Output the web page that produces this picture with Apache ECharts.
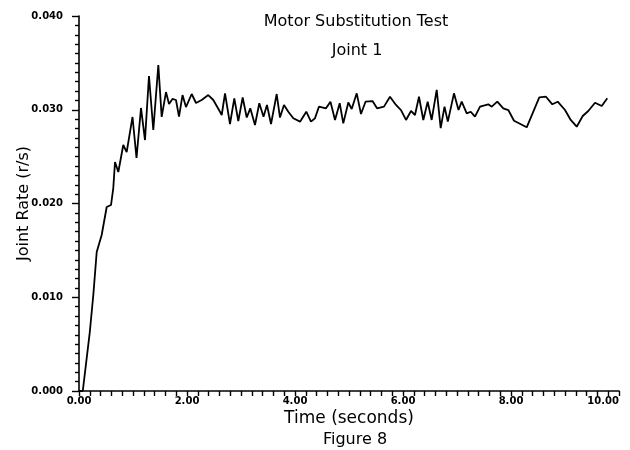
<!DOCTYPE html>
<html>
<head>
<meta charset="utf-8">
<script src="https://cdn.jsdelivr.net/npm/echarts@6/dist/echarts.min.js"></script>
<style>html,body{margin:0;padding:0;background:#fff}#c{width:630px;height:450px}</style>
</head>
<body>
<div id="c"></div>
<script>
const titleText = "Motor Substitution Test";
const subtitleText = "Joint 1";
const xName = "Time (seconds)";
const yName = "Joint Rate (r/s)";
const captionText = "Figure 8";

const time = [0, 0.07, 0.20, 0.265, 0.328, 0.42, 0.513, 0.593, 0.635, 0.667, 0.728, 0.82, 0.883, 0.991, 1.065, 1.148, 1.222, 1.296, 1.376, 1.469, 1.531, 1.611, 1.667, 1.731, 1.796, 1.852, 1.917, 1.981, 2.087, 2.167, 2.272, 2.394, 2.487, 2.611, 2.643, 2.704, 2.796, 2.876, 2.95, 3.031, 3.106, 3.172, 3.259, 3.339, 3.417, 3.481, 3.556, 3.661, 3.722, 3.796, 3.876, 3.969, 4.093, 4.209, 4.296, 4.37, 4.444, 4.574, 4.657, 4.741, 4.828, 4.894, 4.987, 5.05, 5.143, 5.222, 5.306, 5.435, 5.519, 5.648, 5.759, 5.87, 5.963, 6.056, 6.148, 6.222, 6.296, 6.376, 6.457, 6.531, 6.624, 6.698, 6.769, 6.83, 6.944, 7.028, 7.087, 7.18, 7.254, 7.333, 7.426, 7.58, 7.643, 7.746, 7.857, 7.95, 8.056, 8.291, 8.524, 8.648, 8.765, 8.865, 9.0, 9.106, 9.217, 9.328, 9.431, 9.556, 9.68, 9.783];
const rate = [0, 0, 0.00629, 0.01024, 0.01483, 0.01664, 0.01963, 0.01984, 0.02165, 0.02443, 0.02336, 0.02624, 0.02549, 0.02923, 0.02485, 0.03019, 0.02677, 0.0336, 0.02784, 0.03477, 0.02923, 0.03189, 0.03061, 0.03115, 0.03104, 0.02926, 0.03157, 0.03029, 0.03168, 0.03072, 0.03104, 0.03157, 0.03104, 0.02979, 0.02944, 0.03175, 0.02848, 0.03122, 0.0288, 0.03131, 0.02917, 0.03015, 0.02837, 0.03069, 0.02926, 0.03051, 0.02848, 0.03168, 0.02917, 0.03051, 0.02979, 0.02909, 0.02873, 0.02979, 0.02873, 0.02909, 0.03033, 0.03015, 0.03086, 0.02891, 0.03069, 0.02855, 0.03077, 0.03008, 0.03175, 0.02955, 0.03086, 0.03093, 0.03015, 0.03033, 0.03139, 0.03051, 0.02997, 0.02891, 0.02987, 0.02944, 0.03139, 0.02891, 0.03086, 0.02891, 0.03211, 0.02805, 0.03033, 0.02873, 0.03175, 0.02997, 0.03086, 0.02962, 0.02979, 0.02926, 0.03033, 0.03058, 0.03033, 0.03086, 0.03015, 0.02997, 0.02883, 0.02813, 0.03133, 0.03139, 0.03058, 0.03086, 0.02997, 0.02891, 0.02819, 0.02933, 0.02987, 0.03075, 0.0304, 0.03122];

const xTicks = [0, 2, 4, 6, 8, 10];
const yTicks = [0, 0.01, 0.02, 0.03, 0.04];

const points = time.map((t, i) => [t, rate[i]]);
const FONT = "DejaVu Sans";

const chart = echarts.init(document.getElementById('c'), null, {renderer: 'canvas'});
chart.setOption({
  animation: false,
  backgroundColor: '#fff',
  title: [
    {text: titleText, left: 351, top: 9, textAlign: 'center',
     textStyle: {fontFamily: FONT, fontSize: 16, fontWeight: 'normal', color: '#000'}},
    {text: subtitleText, left: 352, top: 38, textAlign: 'center',
     textStyle: {fontFamily: FONT, fontSize: 16, fontWeight: 'normal', color: '#000'}},
    {text: captionText, left: 350, top: 427, textAlign: 'center',
     textStyle: {fontFamily: FONT, fontSize: 16, fontWeight: 'normal', color: '#000'}}
  ],
  grid: {left: 79, right: 11, top: 16, bottom: 59, containLabel: false, outerBoundsMode: 'none'},
  xAxis: {
    type: 'value', min: xTicks[0], max: xTicks[xTicks.length - 1], interval: 2,
    name: xName, nameLocation: 'middle', nameGap: 19, nameMoveOverlap: false,
    nameTextStyle: {fontFamily: FONT, fontSize: 17, color: '#000'},
    axisLine: {lineStyle: {color: '#000', width: 1.6}},
    axisTick: {show: true, inside: false, length: 5, lineStyle: {color: '#000', width: 1.4}},
    minorTick: {show: true, splitNumber: 10, length: 5, lineStyle: {color: '#000', width: 1.4}},
    splitLine: {show: false},
    axisLabel: {margin: 5, fontFamily: FONT, fontSize: 10, fontWeight: 'bold', color: '#000',
      alignMaxLabel: 'right', formatter: v => v.toFixed(2)}
  },
  yAxis: {
    type: 'value', min: yTicks[0], max: yTicks[yTicks.length - 1], interval: 0.01,
    name: yName, nameLocation: 'middle', nameGap: 47, nameRotate: 90, nameMoveOverlap: false,
    nameTextStyle: {fontFamily: FONT, fontSize: 16, color: '#000'},
    axisLine: {show: true, lineStyle: {color: '#000', width: 1.6}},
    axisTick: {show: true, inside: false, length: 7, lineStyle: {color: '#000', width: 1.4}},
    minorTick: {show: true, splitNumber: 10, length: 4, lineStyle: {color: '#000', width: 1.4}},
    splitLine: {show: false},
    axisLabel: {margin: 16, fontFamily: FONT, fontSize: 10, fontWeight: 'bold', color: '#000',
      formatter: v => v.toFixed(3)}
  },
  series: [{
    type: 'line', data: points, showSymbol: false, symbol: 'none',
    lineStyle: {color: '#000', width: 1.8}, clip: true
  }]
});
</script>
</body>
</html>
